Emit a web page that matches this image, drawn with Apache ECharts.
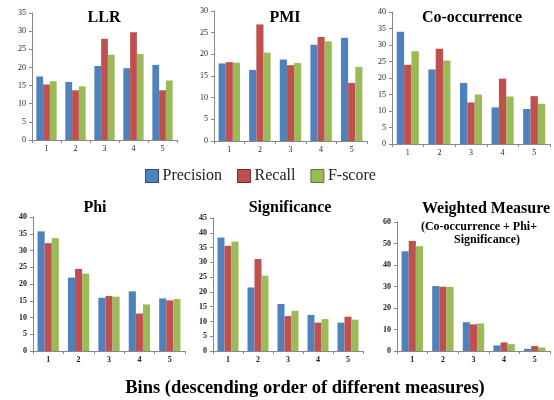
<!DOCTYPE html>
<html>
<head>
<meta charset="utf-8">
<script src="https://cdn.jsdelivr.net/npm/echarts@6/dist/echarts.min.js"></script>
<style>
html,body{margin:0;padding:0;background:#fff;}
#c{width:554px;height:400px;}
</style>
</head>
<body>
<div id="c"></div>
<script>
// ---- data ----
const categories = ['1', '2', '3', '4', '5'];
const seriesNames = ['Precision', 'Recall', 'F-score'];
const panelTitles = ['LLR', 'PMI', 'Co-occurrence', 'Phi', 'Significance', 'Weighted Measure'];

const llrPrecision = [17.5, 16.0, 20.4, 19.8, 20.7];
const llrRecall    = [15.3, 13.7, 27.9, 29.7, 13.7];
const llrFscore    = [16.2, 14.8, 23.5, 23.7, 16.4];

const pmiPrecision = [17.9, 16.4, 18.8, 22.2, 23.8];
const pmiRecall    = [18.2, 26.9, 17.5, 24.0, 13.4];
const pmiFscore    = [18.1, 20.4, 18.0, 23.0, 17.1];

const coPrecision  = [34.0, 22.6, 18.5, 11.1, 10.6];
const coRecall     = [24.0, 28.9, 12.6, 19.8, 14.5];
const coFscore     = [28.1, 25.3, 15.0, 14.4, 12.2];

const phiPrecision = [35.7, 21.9, 15.9, 17.8, 15.7];
const phiRecall    = [32.2, 24.5, 16.4, 11.2, 15.1];
const phiFscore    = [33.7, 23.1, 16.2, 13.9, 15.5];

const sigPrecision = [38.4, 21.5, 15.9, 12.2, 9.6];
const sigRecall    = [35.6, 31.1, 11.8, 9.6, 11.6];
const sigFscore    = [37.0, 25.5, 13.6, 10.8, 10.6];

const wPrecision   = [46.4, 30.2, 13.4, 2.6, 1.0];
const wRecall      = [51.2, 29.9, 12.4, 4.0, 2.3];
const wFscore      = [48.7, 29.8, 12.8, 3.2, 1.6];

const yMax      = [35, 30, 40, 40, 45, 60];
const yInterval = [5, 5, 5, 5, 5, 10];

const panelData = [
  [llrPrecision, llrRecall, llrFscore],
  [pmiPrecision, pmiRecall, pmiFscore],
  [coPrecision, coRecall, coFscore],
  [phiPrecision, phiRecall, phiFscore],
  [sigPrecision, sigRecall, sigFscore],
  [wPrecision, wRecall, wFscore]
];

// ---- layout / style ----
const colors = ['#4F81BD', '#C0504D', '#9BBB59'];
const borders = ['#2C4D75', '#772C2A', '#5F7530'];
const grids = [
  {left: 32,  top: 13,  width: 145, height: 127},
  {left: 214, top: 11,  width: 153, height: 130},
  {left: 392, top: 12,  width: 158, height: 132},
  {left: 33,  top: 217, width: 152, height: 134},
  {left: 213, top: 218, width: 150, height: 133},
  {left: 397, top: 222, width: 153, height: 129}
];
const titlePos = [
  [104, 18], [285, 18], [472, 18],
  [95, 208], [290, 208], [486, 209]
];
const serif = '"Liberation Serif", "Times New Roman", serif';

const titles = panelTitles.map((t, i) => ({
  text: t, left: titlePos[i][0], top: titlePos[i][1],
  textAlign: 'center', textVerticalAlign: 'middle', padding: 0,
  textStyle: {fontFamily: serif, fontWeight: 'bold', fontSize: 16, color: '#000'}
}));
titles.push({
  text: '(Co-occurrence + Phi+', left: 479, top: 227,
  textAlign: 'center', textVerticalAlign: 'middle', padding: 0,
  textStyle: {fontFamily: serif, fontWeight: 'bold', fontSize: 12, color: '#000'}
});
titles.push({
  text: 'Significance)', left: 487, top: 240,
  textAlign: 'center', textVerticalAlign: 'middle', padding: 0,
  textStyle: {fontFamily: serif, fontWeight: 'bold', fontSize: 12, color: '#000'}
});
titles.push({
  text: 'Bins (descending order of different measures)', left: 305, top: 388,
  textAlign: 'center', textVerticalAlign: 'middle', padding: 0,
  textStyle: {fontFamily: serif, fontWeight: 'bold', fontSize: 18.5, color: '#000'}
});

const xAxes = grids.map((g, i) => ({
  type: 'category', gridIndex: i, data: categories,
  axisLine: {lineStyle: {color: '#888', width: 1}},
  axisTick: {show: true, length: 3, alignWithLabel: false, lineStyle: {color: '#888'}},
  axisLabel: {fontFamily: serif, fontSize: 8, color: '#222', margin: 5,
              fontWeight: i >= 3 ? 'bold' : 'normal'}
}));
const yAxes = grids.map((g, i) => ({
  type: 'value', gridIndex: i, min: 0, max: yMax[i], interval: yInterval[i],
  splitLine: {show: false},
  axisLine: {show: true, lineStyle: {color: '#888', width: 1}},
  axisTick: {show: true, length: 3, lineStyle: {color: '#888'}},
  axisLabel: {fontFamily: serif, fontSize: 8, color: '#222', margin: 6,
              fontWeight: i >= 3 ? 'bold' : 'normal'}
}));

const series = [];
panelData.forEach((pd, i) => {
  pd.forEach((vals, k) => {
    series.push({
      name: seriesNames[k], type: 'bar', xAxisIndex: i, yAxisIndex: i,
      data: vals, barGap: '0%', barCategoryGap: '30%',
      itemStyle: {color: colors[k]}, silent: true, animation: false
    });
  });
});

const chart = echarts.init(document.getElementById('c'), null, {renderer: 'canvas'});
chart.setOption({
  animation: false,
  backgroundColor: '#fff',
  title: titles,
  legend: {
    left: 145, top: 168, padding: 0, itemGap: 15, itemWidth: 13, itemHeight: 13,
    icon: 'rect', selectedMode: false,
    textStyle: {fontFamily: serif, fontSize: 16, color: '#222', padding: [0, 0, 0, -1]},
    data: seriesNames.map((n, k) => ({
      name: n, itemStyle: {color: colors[k], borderColor: borders[k], borderWidth: 1}
    }))
  },
  grid: grids.map(g => Object.assign({containLabel: false}, g)),
  xAxis: xAxes,
  yAxis: yAxes,
  series: series
});
</script>
</body>
</html>
